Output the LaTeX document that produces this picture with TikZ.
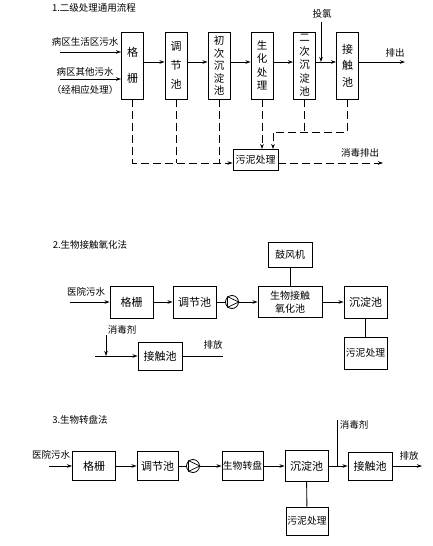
\documentclass[tikz,border=0pt]{standalone}
\usepackage{fontspec}
\setmainfont{Noto Sans CJK SC}
\usetikzlibrary{arrows.meta}
\tikzset{
	box/.style={draw, line width=0.9pt, inner sep=0pt, align=center, font=\fontsize{11}{13}\selectfont},
	vbox/.style={box, minimum width=22pt, minimum height=67pt},
	hbox/.style={box, minimum width=43pt, minimum height=32pt},
	lbl/.style={inner sep=0pt, font=\fontsize{9.5}{11}\selectfont},
	flow/.style={line width=0.9pt},
	sludge/.style={line width=0.8pt, dash pattern=on 8pt off 4pt},
	pump/.style={draw, circle, line width=0.8pt, minimum size=13pt, inner sep=0pt},
	>={Stealth[length=5pt, width=3.5pt]}
}
\begin{document}
\begin{tikzpicture}[x=1pt, y=-1pt]
		\useasboundingbox (0,0) rectangle (432,546);
		% 1
		\node[lbl] (ttl1) at (94,8) {1.二级处理通用流程};
		\node[vbox, font=\fontsize{11}{26}\selectfont] (g1) at (132.5,65.5) {格\\栅};
		\node[vbox, font=\fontsize{11}{19}\selectfont] (t1) at (176,65.5) {调\\节\\池};
		\node[vbox, font=\fontsize{10.5}{12.5}\selectfont] (c1) at (219,65.5) {初\\次\\沉\\淀\\池};
		\node[vbox, font=\fontsize{10.5}{13.5}\selectfont] (s1) at (262,65.5) {生\\化\\处\\理};
		\node[vbox, font=\fontsize{10.5}{13.5}\selectfont] (e1) at (304.5,65.5) {二\\次\\沉\\淀\\池};
		\node[vbox, font=\fontsize{11}{16.5}\selectfont] (j1) at (347.5,65.5) {接\\触\\池};
		\node[box, minimum width=45pt, minimum height=21pt, font=\fontsize{10}{12}\selectfont] (sl1) at (255.5,160) {污泥处理};
		\node[lbl] (w1) at (85,42) {病区生活区污水};
		\node[lbl] (w2) at (85,72) {病区其他污水};
		\node[lbl] (w3) at (85,90) {（经相应处理）};
		\node[lbl] (cl1t) at (322,14) {投氯};
		\node[lbl] (out1t) at (395,53) {排出};
		\node[lbl] (dis1) at (360,153) {消毒排出};
		\coordinate (r1) at (0,62);
		\coordinate (a1) at (60,52);
		\coordinate (b1) at (60,79);
		\coordinate (cl1) at (321,22);
		\coordinate (o1) at (405,62);
		\coordinate (m1) at (0,163);
		\coordinate (n1) at (0,132);
		\coordinate (k1) at (273,0);
		\coordinate (q1) at (383,163);
		\draw[flow,->] (a1) -- (a1 -| g1.west);
		\draw[flow,->] (b1) -- (b1 -| g1.west);
		\draw[flow,->] (g1.east |- r1) -- (t1.west |- r1);
		\draw[flow,->] (t1.east |- r1) -- (c1.west |- r1);
		\draw[flow,->] (c1.east |- r1) -- (s1.west |- r1);
		\draw[flow,->] (s1.east |- r1) -- (e1.west |- r1);
		\draw[flow,->] (e1.east |- r1) -- (j1.west |- r1);
		\draw[flow,->] (j1.east |- r1) -- (o1);
		\draw[flow,->] (cl1) -- (cl1 |- r1);
		\draw[sludge,->] (g1.south) |- (sl1.west |- m1);
		\draw[sludge] (t1.south) -- (t1.south |- m1);
		\draw[sludge] (c1.south) -- (c1.south |- m1);
		\draw[sludge,->] (s1.south) -- (s1.south |- sl1.north);
		\draw[sludge] (e1.south) -- (e1.south |- n1);
		\draw[sludge,->] (j1.south) |- (k1 |- n1) -- (k1 |- sl1.north);
		\draw[sludge,->] (sl1.east |- m1) -- (q1);
		% 2
		\node[lbl] (ttl2) at (90,245) {2.生物接触氧化法};
		\node[box, minimum width=44pt, minimum height=25pt, font=\fontsize{10}{12}\selectfont] (fj2) at (290,254.5) {鼓风机};
		\node[hbox] (g2) at (131.5,302) {格栅};
		\node[hbox] (t2) at (194.5,302) {调节池};
		\node[pump] (p2) at (232,302) {};
		\node[hbox, minimum width=64pt, minimum height=31pt, font=\fontsize{10}{12.5}\selectfont] (b2) at (290,302) {生物接触\\氧化池};
		\node[hbox] (d2) at (365.5,302) {沉淀池};
		\node[hbox, font=\fontsize{9.8}{12}\selectfont] (sl2) at (365.5,353) {污泥处理};
		\node[box, minimum width=44pt, minimum height=28pt] (jc2) at (160,356) {接触池};
		\node[lbl] (src2) at (86,292) {医院污水};
		\node[lbl] (dis2) at (122,330) {消毒剂};
		\node[lbl] (pf2) at (213,345) {排放};
		\coordinate (in2) at (70,302);
		\coordinate (dz2) at (106,335);
		\coordinate (in2b) at (95,356);
		\coordinate (out2) at (223,356);
		\draw[flow,->] (in2) -- (g2);
		\draw[flow,->] (g2) -- (t2);
		\draw[flow] (t2) -- (p2);
		\draw[line width=0.7pt] (p2.130) -- (p2.east) -- (p2.230) -- cycle;
		\draw[flow,->] (p2) -- (b2);
		\draw[flow,->] (b2) -- (d2);
		\draw[flow] (fj2) -- (b2);
		\draw[flow] (d2) -- (sl2);
		\draw[flow,->] (dz2) -- (dz2 |- jc2);
		\draw[flow,->] (in2b) -- (jc2);
		\draw[flow] (jc2) -- (out2);
		% 3
		\node[lbl] (ttl3) at (80,420) {3.生物转盘法};
		\node[hbox, minimum height=29pt] (g3) at (94,466) {格栅};
		\node[hbox, minimum height=29pt, minimum width=41pt] (t3) at (157.5,466) {调节池};
		\node[pump] (p3) at (193,466) {};
		\node[hbox, minimum height=29pt, minimum width=41pt, font=\fontsize{9.8}{12}\selectfont] (r3) at (242.5,466) {生物转盘};
		\node[hbox, minimum height=31pt] (d3) at (306.5,466) {沉淀池};
		\node[box, minimum width=44pt, minimum height=28pt] (jc3) at (370,466) {接触池};
		\node[hbox, minimum height=28pt, minimum width=42pt, font=\fontsize{9.8}{12}\selectfont] (sl3) at (307,521) {污泥处理};
		\node[lbl] (src3) at (51,455) {医院污水};
		\node[lbl] (dis3) at (354,425) {消毒剂};
		\node[lbl] (pf3) at (409,456) {排放};
		\coordinate (in3) at (49,466);
		\coordinate (dz3) at (337,420);
		\coordinate (out3) at (422,466);
		\draw[flow,->] (in3) -- (g3);
		\draw[flow,->] (g3) -- (t3);
		\draw[flow] (t3) -- (p3);
		\draw[line width=0.7pt] (p3.130) -- (p3.east) -- (p3.230) -- cycle;
		\draw[flow,->] (p3) -- (r3);
		\draw[flow,->] (r3) -- (d3);
		\draw[flow,->] (d3) -- (jc3);
		\draw[flow] (dz3) -- (dz3 |- d3);
		\draw[flow] (d3) -- (sl3);
		\draw[flow,->] (jc3) -- (out3);
	\end{tikzpicture}
\end{document}
